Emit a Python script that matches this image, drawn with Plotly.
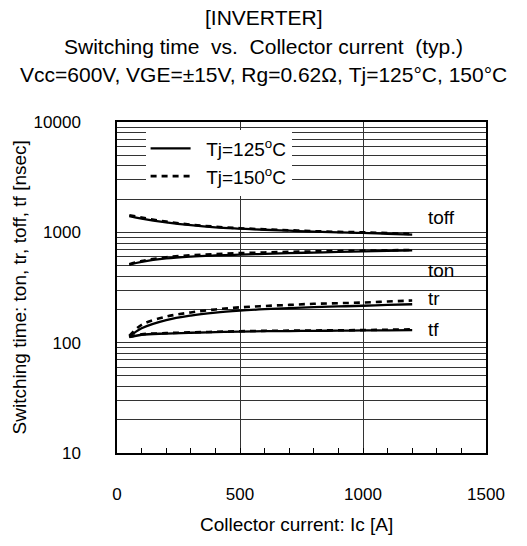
import math
import plotly.graph_objects as go

ic = [50, 100, 200, 300, 400, 500, 600, 700, 800, 900, 1000, 1100, 1200]

toff_125 = [1400, 1330, 1230, 1160, 1110, 1080, 1055, 1035, 1015, 1000, 990, 970, 955]
toff_150 = [1430, 1360, 1250, 1175, 1125, 1090, 1065, 1045, 1025, 1010, 1000, 985, 965]
ton_125 = [510, 540, 580, 603, 617, 628, 638, 648, 656, 664, 671, 679, 686]
ton_150 = [515, 550, 595, 620, 636, 648, 657, 665, 672, 678, 682, 687, 692]
tr_125 = [113, 135, 160, 176, 187, 195, 201, 206, 210, 213, 216, 220, 223]
tr_150 = [115, 145, 172, 188, 200, 209, 215, 220, 225, 228, 231, 236, 241]
tf_125 = [112, 118, 121, 123, 124.5, 126, 127, 127.5, 128, 128.5, 129, 129.5, 130]
tf_150 = [113, 119, 122, 124, 125.5, 127, 128, 128.5, 129, 129.5, 130, 131, 132]

series_labels = ["toff", "ton", "tr", "tf"]
label_y = [1349, 452, 249, 133]
label_x = 1258

x_ticks = [0, 500, 1000, 1500]

FONT = "Arial, Liberation Sans, sans-serif"

fig = go.Figure()

solid = dict(color="black", width=2.3, shape="spline")
dashed = dict(color="black", width=2.6, dash="6px,5px", shape="spline")

sets125 = [toff_125, ton_125, tr_125, tf_125]
sets150 = [toff_150, ton_150, tr_150, tf_150]
for i, a in enumerate(sets125):
    fig.add_trace(go.Scatter(x=ic, y=a, mode="lines", line=solid,
                             name="&nbsp;&nbsp;Tj=125<sup>o</sup>C", legendgroup="125",
                             showlegend=(i == 0)))
for i, b in enumerate(sets150):
    fig.add_trace(go.Scatter(x=ic, y=b, mode="lines", line=dashed,
                             name="&nbsp;&nbsp;Tj=150<sup>o</sup>C", legendgroup="150",
                             showlegend=(i == 0)))

# y grid at every 1..9 x decade
yvals, ytext = [], []
for d in [10, 100, 1000]:
    for k in range(1, 10):
        v = k * d
        yvals.append(v)
        ytext.append(str(v) if k == 1 else "")
yvals.append(10000)
ytext.append("10000")

fig.update_layout(
    width=527, height=546,
    margin=dict(l=117, r=41, t=122, b=93),
    paper_bgcolor="white", plot_bgcolor="white",
    font=dict(family=FONT, size=17, color="black"),
    showlegend=True,
    legend=dict(x=0.0775, y=0.977, xanchor="left", yanchor="top",
                bgcolor="white", borderwidth=0,
                font=dict(family=FONT, size=19, color="black"),
                tracegroupgap=0, itemwidth=40),
)

fig.update_xaxes(
    range=[0, 1500], tickvals=x_ticks, ticktext=[str(v) for v in x_ticks],
    showgrid=True, gridcolor="#333", gridwidth=1,
    showline=True, linecolor="black", linewidth=1.5, mirror=True,
    ticks="inside", ticklen=5, tickcolor="black",
    minor=dict(dtick=100, ticks="inside", ticklen=5, tickcolor="black", showgrid=False),
    ticklabelstandoff=25, zeroline=False,
    tickfont=dict(family=FONT, size=17),
)
fig.update_yaxes(
    type="log", range=[1, 4], tickvals=yvals, ticktext=ytext,
    showgrid=True, gridcolor="#333", gridwidth=1,
    showline=True, linecolor="black", linewidth=1.5, mirror=True,
    ticks="", ticklabelstandoff=31, zeroline=False,
    tickfont=dict(family=FONT, size=17),
)

for t, yv in zip(series_labels, label_y):
    fig.add_annotation(x=label_x, y=math.log10(yv), xref="x", yref="y", yanchor="middle",
                       text=t, showarrow=False, xanchor="left",
                       font=dict(family=FONT, size=19, color="black"))

titles = ["[INVERTER]",
          "Switching time  vs.  Collector current  (typ.)",
          "Vcc=600V, VGE=±15V, Rg=0.62Ω, Tj=125°C, 150°C"]
title_y = [1.317, 1.2296, 1.142]
for t, yy in zip(titles, title_y):
    fig.add_annotation(x=0.397, y=yy, xref="paper", yref="paper", text=t,
                       showarrow=False, xanchor="center", yanchor="middle",
                       borderpad=0,
                       font=dict(family=FONT, size=21, color="black"))

fig.add_annotation(x=0.4865, y=-0.2175, xref="paper", yref="paper",
                   text="Collector current: Ic [A]", showarrow=False,
                   xanchor="center", yanchor="middle",
                   font=dict(family=FONT, size=19, color="black"))
fig.add_annotation(x=-0.263, y=0.5, xref="paper", yref="paper",
                   text="Switching time: ton, tr, toff, tf [nsec]", showarrow=False,
                   textangle=-90, xanchor="center", yanchor="middle",
                   font=dict(family=FONT, size=19, color="black"))

fig.write_html("out.html",
               config={"displayModeBar": False},
               post_script="document.body.style.margin='0';document.body.style.padding='0';")
